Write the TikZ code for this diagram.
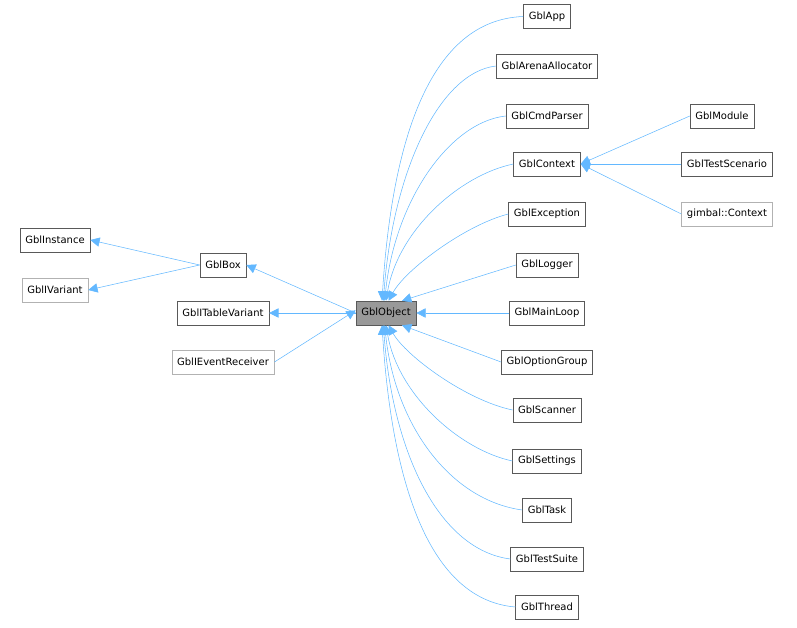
\documentclass[tikz,border=0pt]{standalone}
\usepackage{fontspec}
\setmainfont{DejaVu Sans}
\usetikzlibrary{arrows.meta}
\definecolor{edge}{HTML}{63B8FF}
\begin{document}
\begin{tikzpicture}[x=0.75pt,y=-0.75pt,
  box/.style={draw=black!65,fill=white,minimum height=18pt,inner xsep=4pt,font=\fontsize{7.5}{9}\selectfont},
  gbox/.style={box,draw=black!30},
  arr/.style={draw=edge,-{Triangle[width=7pt,length=7pt,fill=edge]}}]
\useasboundingbox (0,0) rectangle (797,628);
\node[box,fill=black!40] (obj) at (386,313) {GblObject};
\foreach \n/\t/\y in {app/GblApp/16.5,arena/GblArenaAllocator/66,cmd/GblCmdParser/116,ctx/GblContext/164,exc/GblException/214,log/GblLogger/265,loop/GblMainLoop/313,opt/GblOptionGroup/362,scan/GblScanner/410,set/GblSettings/461,task/GblTask/510,suite/GblTestSuite/559,thr/GblThread/607}
  \node[box] (\n) at (547,\y) {\t};
\node[box] (mod) at (722,116) {GblModule};
\node[box] (tsc) at (727,164) {GblTestScenario};
\node[gbox] (gct) at (727,214) {gimbal::Context};
\node[box] (inst) at (55,240) {GblInstance};
\node[gbox] (ivar) at (55,290) {GblIVariant};
\node[box] (gbox) at (223,265) {GblBox};
\node[box] (itv) at (223,313) {GblITableVariant};
\node[gbox] (iev) at (223,362) {GblIEventReceiver};
% children of GblObject
\draw[arr] (app.west) .. controls (430,20) and (392,140) .. ([xshift=-3pt]obj.north);
\draw[arr] (arena.west) .. controls (440,72) and (393,170) .. ([xshift=-2pt]obj.north);
\draw[arr] (cmd.west) .. controls (450,122) and (395,200) .. ([xshift=-1pt]obj.north);
\draw[arr] (ctx.west) .. controls (460,175) and (398,230) .. (obj.north);
\draw[arr] (exc.west) .. controls (465,225) and (405,270) .. ([xshift=2pt]obj.north);
\draw[arr] (log.west) -- ([xshift=12pt]obj.north);
\draw[arr] (loop.west) -- (obj.east);
\draw[arr] (opt.west) -- ([xshift=12pt]obj.south);
\draw[arr] (scan.west) .. controls (465,400) and (405,355) .. ([xshift=2pt]obj.south);
\draw[arr] (set.west) .. controls (460,450) and (398,395) .. (obj.south);
\draw[arr] (task.west) .. controls (450,500) and (395,425) .. ([xshift=-1pt]obj.south);
\draw[arr] (suite.west) .. controls (440,550) and (393,455) .. ([xshift=-2pt]obj.south);
\draw[arr] (thr.west) .. controls (430,600) and (392,485) .. ([xshift=-3pt]obj.south);
% context children
\draw[arr] (mod.west) -- (ctx.east);
\draw[arr] (tsc.west) -- (ctx.east);
\draw[arr] (gct.west) -- (ctx.east);
% parents
\draw[arr] (obj.west) -- (gbox.east);
\draw[arr] (obj.west) -- (itv.east);
\draw[arr] (iev.east) -- ([yshift=2pt]obj.west);
\draw[arr] (gbox.west) -- (inst.east);
\draw[arr] (gbox.west) -- (ivar.east);
\end{tikzpicture}
\end{document}
